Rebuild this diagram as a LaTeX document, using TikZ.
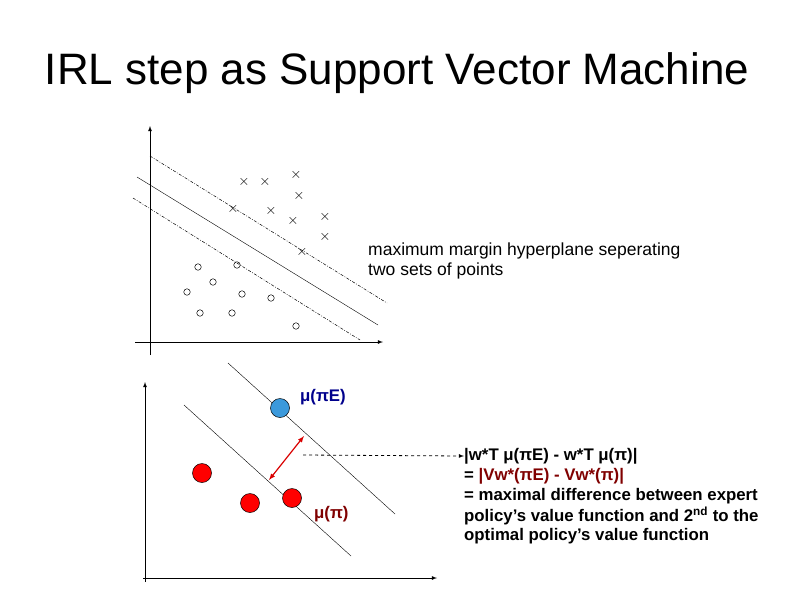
\documentclass[tikz,border=0pt]{standalone}
\usepackage{fontspec}
\setmainfont{Liberation Sans}
\begin{document}
\begin{tikzpicture}[x=1pt,y=-1pt,
  ax/.style={line width=0.8pt,-latex},
  thin/.style={line width=0.4pt},
  mdash/.style={line width=0.5pt,dash pattern=on 3pt off 1.5pt on 0.8pt off 1.5pt},
  cross/.style={font=\fontsize{14}{14}\selectfont,inner sep=0pt},
  circ/.style={circle,draw,line width=0.5pt,minimum size=6.5pt,inner sep=0pt},
  big/.style={circle,draw=black,line width=0.5pt,minimum size=19pt,inner sep=0pt},
  txt/.style={font=\fontsize{17.5}{20}\selectfont,anchor=west,inner sep=0pt},
  btxt/.style={font=\bfseries\fontsize{16.8}{20}\selectfont,anchor=west,inner sep=0pt}]
\useasboundingbox (0,0) rectangle (794,595);
\node (title) at (397,73) {\fontsize{44}{46}\selectfont IRL step as Support Vector Machine};
% top plot
\coordinate (yb) at (150,355); \coordinate (yt) at (150,126);
\coordinate (xl) at (135,342); \coordinate (xr) at (383,342);
\draw[ax] (yb) -- (yt);
\draw[ax] (xl) -- (xr);
\coordinate (u1) at (150,156); \coordinate (u2) at (387,303);
\coordinate (s1) at (137,177); \coordinate (s2) at (378,325);
\coordinate (l1) at (133,198); \coordinate (l2) at (360,340);
\draw[mdash] (u1) -- (u2);
\draw[thin] (s1) -- (s2);
\draw[mdash] (l1) -- (l2);
\foreach \p [count=\i] in {(244,182),(265,182),(296,175),(299,196),(233,209),(271,211),(293,221),(325,217),(325,237),(302,252)}
  \node[cross] (x\i) at \p {$\times$};
\foreach \p [count=\i] in {(198,267),(237,265),(213,282),(187,292),(242,294),(271,298),(200,313),(232,313),(296,326)}
  \node[circ] (o\i) at \p {};
\node[txt] (t1) at (368,251) {maximum margin hyperplane seperating};
\node[txt] (t2) at (368,271) {two sets of points};
% bottom plot
\coordinate (Yb) at (145,582); \coordinate (Yt) at (145,382);
\coordinate (Xl) at (143,578); \coordinate (Xr) at (437,578);
\draw[ax] (Yb) -- (Yt);
\draw[ax] (Xl) -- (Xr);
\coordinate (U1) at (228,363); \coordinate (U2) at (395,514);
\coordinate (L1) at (184,405); \coordinate (L2) at (351,556);
\draw[line width=0.4pt] (U1) -- (U2);
\draw[line width=0.4pt] (L1) -- (L2);
\node[big,fill=cyan!70!blue!80] (mE) at (280,408) {};
\node[big,fill=red] (r1) at (202,473) {};
\node[big,fill=red] (r2) at (250,503) {};
\node[big,fill=red] (r3) at (292,498) {};
\coordinate (a1) at (304,436); \coordinate (a2) at (269,480);
\draw[red!85!black,line width=1.2pt,latex-latex] (a1) -- (a2);
\node[btxt,text=blue!55!black] (lE) at (300,397) {μ(πE)};
\node[btxt,text=red!50!black] (lp) at (314,514) {μ(π)};
\node[btxt] (b1) at (464,456) {|w*T μ(πE) - w*T μ(π)|};
\coordinate (d0) at (303,455);
\draw[dashed,line width=0.8pt,-latex] (d0) -- (b1.west);
\node[btxt] (b2) at (464,476) {= \textcolor{red!50!black}{|Vw*(πE) - Vw*(π)|}};
\node[btxt] (b3) at (464,496) {= maximal difference between expert};
\node[btxt] (b4) at (464,516) {policy’s value function and 2\textsuperscript{nd} to the};
\node[btxt] (b5) at (464,536) {optimal policy’s value function};
\end{tikzpicture}
\end{document}
